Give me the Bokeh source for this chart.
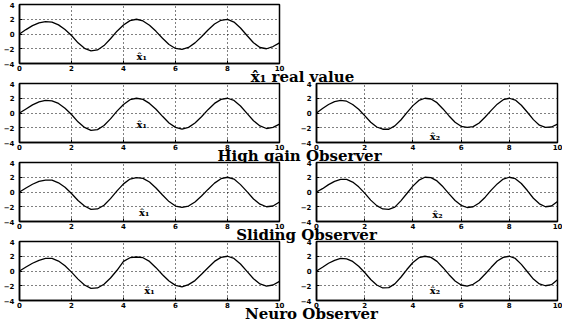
from bokeh.plotting import figure
from bokeh.models import Range1d, FixedTicker
from bokeh.layouts import column, row
from bokeh.embed import file_html
from bokeh.resources import INLINE
from bokeh.core.properties import value

# ---- data ----
t = [0.0, 0.25, 0.5, 0.75, 1.0, 1.25, 1.5, 1.75, 2.0, 2.25, 2.5, 2.75, 3.0, 3.25,
     3.5, 3.75, 4.0, 4.25, 4.5, 4.75, 5.0, 5.25, 5.5, 5.75, 6.0, 6.25, 6.5, 6.75,
     7.0, 7.25, 7.5, 7.75, 8.0, 8.25, 8.5, 8.75, 9.0, 9.25, 9.5, 9.75, 10.0]

real_x1 = [0.0, 0.6, 1.13, 1.51, 1.69, 1.62, 1.24, 0.6, -0.21, -1.2, -1.94, -2.29, -2.16, -1.57,
           -0.64, 0.38, 1.23, 1.81, 2.0, 1.77, 1.18, 0.36, -0.57, -1.42, -1.96, -2.09, -1.82, -1.2,
           -0.37, 0.55, 1.35, 1.86, 1.99, 1.62, 0.81, -0.21, -1.18, -1.83, -2.0, -1.7, -1.2]
high_x1 = [0.0, 0.55, 1.1, 1.5, 1.7, 1.65, 1.3, 0.65, -0.2, -1.2, -1.95, -2.35, -2.25, -1.7,
           -0.8, 0.25, 1.15, 1.8, 2.0, 1.85, 1.3, 0.5, -0.45, -1.35, -1.95, -2.2, -1.95, -1.35,
           -0.5, 0.45, 1.3, 1.85, 2.0, 1.7, 0.95, -0.05, -1.05, -1.75, -2.1, -1.95, -1.5]
high_x2 = [0.0, 0.6, 1.15, 1.55, 1.7, 1.6, 1.15, 0.5, -0.35, -1.25, -1.9, -2.2, -2.2, -1.75,
           -0.95, 0.05, 1.0, 1.7, 2.0, 1.9, 1.4, 0.55, -0.4, -1.25, -1.8, -1.95, -1.85, -1.35,
           -0.55, 0.35, 1.2, 1.8, 2.0, 1.75, 1.05, 0.1, -0.9, -1.65, -1.95, -1.9, -1.5]
slide_x1 = [0.0, 0.55, 1.05, 1.45, 1.62, 1.6, 1.25, 0.65, -0.2, -1.15, -1.9, -2.35, -2.3, -1.8,
            -0.9, 0.15, 1.1, 1.75, 1.95, 1.85, 1.35, 0.55, -0.4, -1.3, -1.9, -2.1, -1.9, -1.35,
            -0.55, 0.35, 1.2, 1.8, 2.0, 1.75, 1.0, 0.05, -0.95, -1.65, -2.0, -1.9, -1.35]
slide_x2 = [0.0, 0.45, 1.0, 1.45, 1.7, 1.7, 1.35, 0.7, -0.15, -1.1, -1.85, -2.3, -2.35, -2.05,
            -1.2, -0.2, 0.8, 1.6, 2.0, 1.95, 1.5, 0.7, -0.25, -1.15, -1.8, -2.1, -2.0, -1.5,
            -0.7, 0.25, 1.1, 1.75, 2.0, 1.8, 1.15, 0.2, -0.85, -1.6, -2.0, -1.9, -1.3]
neuro_x1 = [0.0, 0.55, 1.05, 1.45, 1.7, 1.7, 1.35, 0.7, -0.15, -1.1, -1.9, -2.35, -2.3, -1.8,
            -0.95, 0.1, 1.3, 1.8, 1.9, 1.8, 1.3, 0.45, -0.5, -1.35, -1.95, -2.15, -1.85, -1.3,
            -0.45, 0.45, 1.3, 1.85, 2.0, 1.7, 0.95, -0.05, -1.05, -1.75, -2.05, -1.9, -1.4]
neuro_x2 = [0.0, 0.5, 1.05, 1.45, 1.7, 1.65, 1.3, 0.65, -0.2, -1.15, -1.9, -2.3, -2.25, -1.75,
            -0.85, 0.2, 1.15, 1.8, 2.0, 1.85, 1.3, 0.45, -0.5, -1.35, -1.9, -2.05, -1.8, -1.25,
            -0.4, 0.5, 1.35, 1.85, 2.0, 1.7, 0.9, -0.1, -1.1, -1.75, -2.0, -1.85, -1.2]

x_ticks = [0, 2, 4, 6, 8, 10]
y_ticks = [-4, -2, 0, 2, 4]
titles = ["x\u0302\u2081 real value", "High gain Observer", "Sliding Observer", "Neuro Observer"]

SVG = "svg"
FH = 59
TICK_FONT = "DejaVu Sans"
SERIF = "DejaVu Serif"


def panel(vals, label, lx, ly, left_b, fw, right_b):
    p = figure(frame_width=fw, frame_height=FH, x_range=Range1d(0, 10), y_range=Range1d(-4, 4),
               output_backend=SVG, toolbar_location=None,
               min_border_left=left_b, min_border_right=right_b,
               min_border_top=4, min_border_bottom=10,
               border_fill_color=None, background_fill_color="white")
    p.outline_line_color = "black"
    p.outline_line_width = 1.5
    for ax, ticks in ((p.xaxis, x_ticks), (p.yaxis, y_ticks)):
        ax.ticker = FixedTicker(ticks=ticks)
        ax.axis_line_color = "black"
        ax.axis_line_width = 1.5
        ax.major_tick_in = 3
        ax.major_tick_out = 0
        ax.minor_tick_line_color = None
        ax.major_label_text_font = TICK_FONT
        ax.major_label_text_font_style = "bold"
        ax.major_label_text_font_size = "7px"
        ax.major_label_text_color = "black"
    p.xaxis.major_label_standoff = 1
    p.yaxis.major_label_standoff = 5
    for g in (p.xgrid, p.ygrid):
        g.grid_line_color = "black"
        g.grid_line_dash = "1 3"
        g.grid_line_width = 1
    p.xgrid.ticker = FixedTicker(ticks=x_ticks)
    p.ygrid.ticker = FixedTicker(ticks=y_ticks)
    p.line(t, vals, line_color="black", line_width=1.3)
    p.text(x=[lx], y=[ly], text=[label], text_font=value(SERIF), text_font_style="bold",
           text_font_size="10px", text_align="left", text_baseline="middle", text_color="black")
    return p


def left(vals, label, lx, ly):
    return panel(vals, label, lx, ly, 16, 260, 8)


def right(vals, label, lx, ly):
    return panel(vals, label, lx, ly, 29, 241, 5)


def title_fig(text, cx):
    f = figure(width=559, height=18, x_range=Range1d(0, 559), y_range=Range1d(0, 18),
               output_backend=SVG, toolbar_location=None,
               min_border=0, min_border_left=0, min_border_right=0,
               min_border_top=0, min_border_bottom=0,
               border_fill_color=None, background_fill_color=None,
               outline_line_color=None, margin=(-6, 0, -6, 0))
    f.axis.visible = False
    f.grid.visible = False
    f.text(x=[cx], y=[9], text=[text], text_font=value(SERIF), text_font_style="bold",
           text_font_size="15px", text_align="center", text_baseline="middle", text_color="black")
    return f


X1 = "x\u0302\u2081"
X2 = "x\u0302\u2082"

r1 = row(left(real_x1, X1, 4.5, -3.0))
r2 = row(left(high_x1, X1, 4.5, -1.5), right(high_x2, X2, 4.7, -3.2))
r3 = row(left(slide_x1, X1, 4.6, -2.8), right(slide_x2, X2, 4.8, -3.0))
r4 = row(left(neuro_x1, X1, 4.8, -2.6), right(neuro_x2, X2, 4.7, -2.6))

layout = column(r1, title_fig(titles[0], 302), r2, title_fig(titles[1], 299),
                r3, title_fig(titles[2], 306), r4, title_fig(titles[3], 311))

open("out.html", "w").write(file_html(layout, INLINE))
